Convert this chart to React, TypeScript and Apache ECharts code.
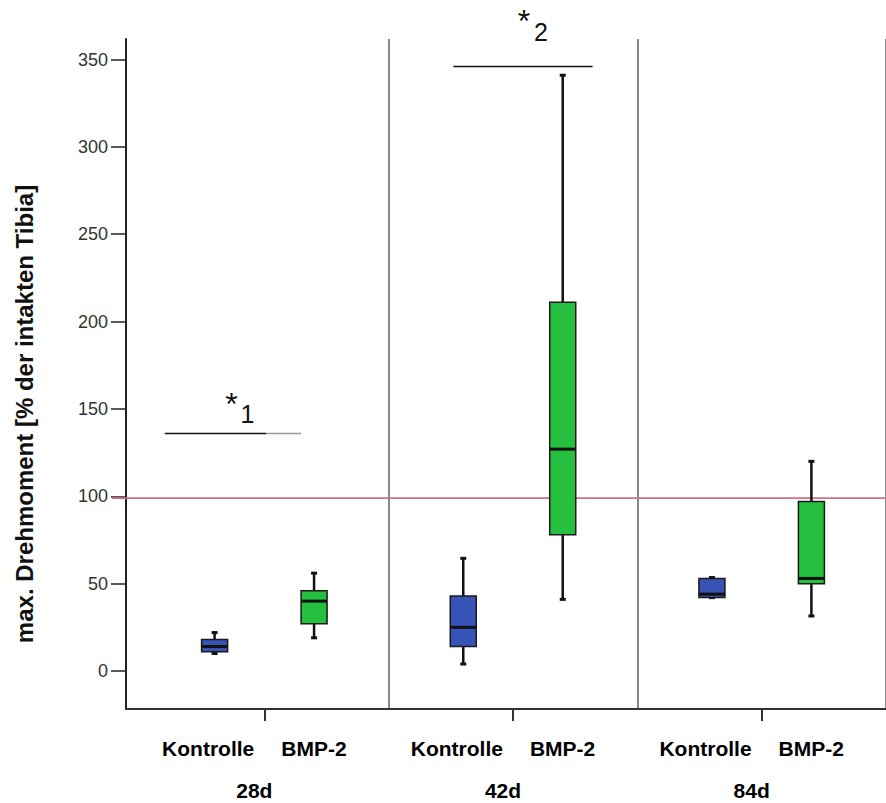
import React, { useEffect, useRef } from "react";
import * as echarts from "echarts";

// ---- data ----
const groups = ["28d", "42d", "84d"];
const treatments = ["Kontrolle", "BMP-2"];
// [min, q1, median, q3, max]
const kontrolle = [
  [10, 11, 14, 18, 22],
  [4, 14, 25, 43, 64.5],
  [42, 42, 44, 53, 53.5],
];
const bmp2 = [
  [19, 27, 40, 46, 56],
  [41, 78, 127, 211, 341],
  [31.5, 50, 53, 97, 120],
];
const referenceValue = 99;
const yTicks = [0, 50, 100, 150, 200, 250, 300, 350];
const yTitle = "max. Drehmoment [% der intakten Tibia]";
// significance bars: [fromSlot, toSlot, value, blackUntilSlot]
const sigBars = [
  [0, 2.74, 136, 2.04],
  [5.8, 8.6, 346, 8.6],
];
// significance labels: [slot, value, text]
const sigTexts: [number, number, string][] = [
  [1.34, 153, "*"],
  [1.66, 147, "1"],
  [7.22, 372, "*"],
  [7.56, 366, "2"],
];

const SLOTS_PER_GROUP = 5;
const slots: string[] = [];
groups.forEach((g) => {
  for (let i = 0; i < SLOTS_PER_GROUP; i++) slots.push(i === 2 ? g : "");
});
const colors = ["#3653b5", "#25c03f"];

const boxData: number[][] = [];
groups.forEach((_, g) => {
  boxData.push([g * 5 + 1, ...kontrolle[g], 0]);
  boxData.push([g * 5 + 3, ...bmp2[g], 1]);
});

const FONT = '"Liberation Sans", Arial, sans-serif';

export default function App() {
  const ref = useRef<HTMLDivElement>(null);
  useEffect(() => {
    const chart = echarts.init(ref.current!, null, { renderer: "svg" });
    const labelStyle = { fontFamily: FONT, fontWeight: "bold", fontSize: 21, lineHeight: 42, color: "#000" };
    const option: any = {
      animation: false,
      grid: { left: 140, top: 39, width: 750, height: 670 },
      xAxis: {
        type: "category",
        data: slots,
        axisLine: { show: false, onZero: false },
        axisTick: {
          show: true,
          alignWithLabel: true,
          interval: (i: number) => i % 5 === 2,
          length: 12,
          lineStyle: { color: "#333", width: 2 },
        },
        axisLabel: {
          interval: (i: number) => i % 5 === 2,
          margin: 18,
          padding: [0, 20, 0, 0],
          formatter: (v: string) =>
            `{k|${treatments[0]}}{gap|}{m|${treatments[1]}}\n{b|${v}}`,
          rich: {
            k: labelStyle,
            gap: { width: 27, lineHeight: 42 },
            m: labelStyle,
            b: labelStyle,
          },
        },
        splitLine: {
          show: true,
          interval: (i: number) => i === 5 || i === 10,
          lineStyle: { color: "#888", width: 2 },
        },
      },
      yAxis: {
        type: "value",
        min: -21.75,
        max: 361.75,
        offset: 14,
        axisLine: { show: true, lineStyle: { color: "#222", width: 2 } },
        axisTick: { show: true, customValues: yTicks, length: 15, lineStyle: { color: "#222", width: 1.5 } },
        axisLabel: { customValues: yTicks, fontSize: 18, color: "#333", margin: 18, fontFamily: FONT },
        splitLine: { show: false },
      },
      series: [
        {
          type: "custom",
          clip: false,
          data: boxData,
          encode: { x: 0, y: [1, 2, 3, 4, 5] },
          renderItem: (params: any, api: any) => {
            const s = api.value(0);
            const x = api.coord([s, 0])[0];
            const yv = (k: number) => api.coord([s, api.value(k)])[1];
            const yMin = yv(1), yQ1 = yv(2), yMed = yv(3), yQ3 = yv(4), yMax = yv(5);
            const c = colors[api.value(6)];
            const w = 26;
            return {
              type: "group",
              children: [
                { type: "line", shape: { x1: x, y1: yMax, x2: x, y2: yMin }, style: { stroke: "#111", lineWidth: 2.5 } },
                { type: "rect", shape: { x: x - 3, y: yMax - 1.5, width: 6, height: 3 }, style: { fill: "#111" } },
                { type: "rect", shape: { x: x - 3, y: yMin - 1.5, width: 6, height: 3 }, style: { fill: "#111" } },
                {
                  type: "rect",
                  shape: { x: x - w / 2, y: yQ3, width: w, height: yQ1 - yQ3 },
                  style: { fill: c, stroke: "#1a1a1a", lineWidth: 1.5 },
                },
                { type: "line", shape: { x1: x - w / 2, y1: yMed, x2: x + w / 2, y2: yMed }, style: { stroke: "#111", lineWidth: 3 } },
              ],
            };
          },
          z: 5,
        },
        {
          type: "custom",
          clip: false,
          data: sigBars,
          encode: { x: 0, y: 2 },
          renderItem: (params: any, api: any) => {
            const band = api.size([1, 0])[0];
            const p0 = api.coord([0, api.value(2)]);
            const px = (f: number) => p0[0] + f * band;
            const a = px(api.value(0)), b = px(api.value(1)), m = px(api.value(3));
            const children: any[] = [
              { type: "line", shape: { x1: a, y1: p0[1], x2: m, y2: p0[1] }, style: { stroke: "#111", lineWidth: 1.5 } },
            ];
            if (b > m)
              children.push({ type: "line", shape: { x1: m, y1: p0[1], x2: b, y2: p0[1] }, style: { stroke: "#999", lineWidth: 1.5 } });
            return { type: "group", children };
          },
          z: 6,
        },
        {
          type: "custom",
          clip: false,
          data: sigTexts,
          encode: { x: 0, y: 1 },
          renderItem: (params: any, api: any) => {
            const band = api.size([1, 0])[0];
            const p0 = api.coord([0, api.value(1)]);
            const x = p0[0] + api.value(0) * band;
            const t = sigTexts[params.dataIndex][2];
            return {
              type: "text",
              x,
              y: p0[1],
              style: {
                text: t,
                fontSize: t === "*" ? 32 : 25,
                fontFamily: FONT,
                fill: "#111",
                align: "center",
                verticalAlign: "middle",
              },
            };
          },
          z: 6,
        },
      ],
    };
    chart.setOption(option);
    const yRef = chart.convertToPixel({ yAxisIndex: 0 }, referenceValue) as number;
    const yBase = chart.convertToPixel({ yAxisIndex: 0 }, -21.75) as number;
    chart.setOption({
      graphic: [
        { type: "line", shape: { x1: 112, y1: yRef, x2: 886, y2: yRef }, style: { stroke: "#cc7383", lineWidth: 1.8 }, z: 1 },
        { type: "line", shape: { x1: 125, y1: yBase, x2: 886, y2: yBase }, style: { stroke: "#333", lineWidth: 2 }, z: 3 },
        {
          type: "text",
          x: 24,
          y: 414,
          rotation: Math.PI / 2,
          style: {
            text: yTitle,
            fontSize: 24,
            fontWeight: "bold",
            fontFamily: FONT,
            fill: "#111",
            align: "center",
            verticalAlign: "middle",
          },
        },
      ],
    });
    return () => chart.dispose();
  }, []);
  return <div ref={ref} style={{ position: "absolute", left: 0, top: 0, width: 886, height: 803 }} />;
}
